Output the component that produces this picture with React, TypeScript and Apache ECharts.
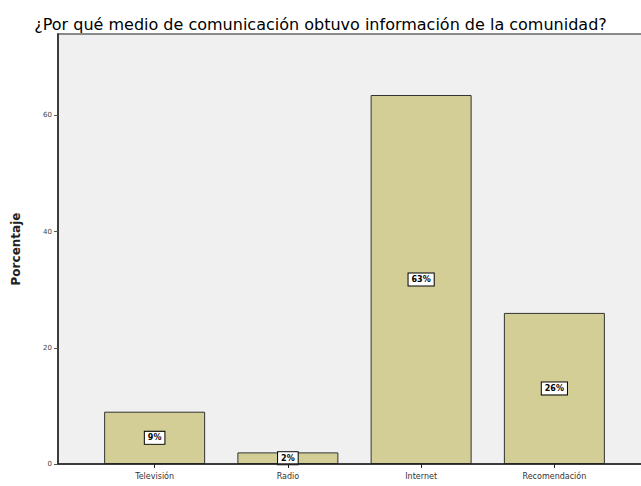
import React, { useEffect, useRef } from "react";
import * as echarts from "echarts";

const categories = ["Televisión", "Radio", "Internet", "Recomendación"];
const percentValues = [9, 2, 63.5, 26];
const percentLabels = ["9%", "2%", "63%", "26%"];
const yTicks = [0, 20, 40, 60];

export default function App() {
  const ref = useRef<HTMLDivElement>(null);
  useEffect(() => {
    if (!ref.current) return;
    const chart = echarts.init(ref.current, null, { renderer: "svg" });
    chart.setOption({
      animation: false,
      backgroundColor: "#ffffff",
      title: {
        text: "¿Por qué medio de comunicación obtuvo información de la comunidad?",
        left: "center",
        top: 11,
        textStyle: { fontFamily: "DejaVu Sans", fontSize: 16, fontWeight: "normal", color: "#000" },
      },
      graphic: [
        {
          type: "rect",
          z: -1,
          shape: { x: 58, y: 34, width: 600, height: 430 },
          style: { fill: "#f0f0f0", stroke: "#8a8a8a", lineWidth: 2 },
        },
        {
          type: "line",
          z: 10,
          shape: { x1: 58, y1: 464, x2: 641, y2: 464 },
          style: { stroke: "#222", lineWidth: 1.5 },
        },
      ],
      grid: { left: 88, right: 20, top: 34, bottom: 22, containLabel: false },
      xAxis: {
        type: "category",
        data: categories,
        boundaryGap: true,
        axisLine: { show: false },
        axisTick: { show: true, alignWithLabel: true, length: 4, lineStyle: { color: "#222" } },
        axisLabel: { fontFamily: "DejaVu Sans", fontSize: 8, color: "#333", margin: 8 },
      },
      yAxis: {
        type: "value",
        min: 0,
        max: 74,
        interval: 20,
        offset: 30,
        name: "Porcentaje",
        nameLocation: "middle",
        nameGap: 36,
        nameTextStyle: { fontFamily: "DejaVu Sans", fontSize: 12, fontWeight: "bold", color: "#222" },
        axisLine: { show: true, lineStyle: { color: "#222", width: 1.5 } },
        axisTick: { show: true, length: 4, lineStyle: { color: "#555" }, customValues: yTicks },
        axisLabel: {
          fontFamily: "DejaVu Sans",
          fontSize: 7,
          color: "#444",
          margin: 6,
          customValues: yTicks,
        },
        splitLine: { show: false },
      },
      series: [
        {
          type: "bar",
          data: percentValues,
          barWidth: 101,
          itemStyle: { color: "#d3ce96", borderColor: "#333", borderWidth: 1 },
          label: {
            show: true,
            position: "inside",
            formatter: (p: any) => percentLabels[p.dataIndex],
            fontFamily: "DejaVu Sans",
            fontSize: 8,
            fontWeight: "bold",
            color: "#000",
            backgroundColor: "#fff",
            borderColor: "#000",
            borderWidth: 1,
            padding: [2, 3],
          },
        },
      ],
    });
    return () => chart.dispose();
  }, []);
  return <div ref={ref} style={{ width: 641, height: 486, position: "absolute", left: 0, top: 0 }} />;
}
